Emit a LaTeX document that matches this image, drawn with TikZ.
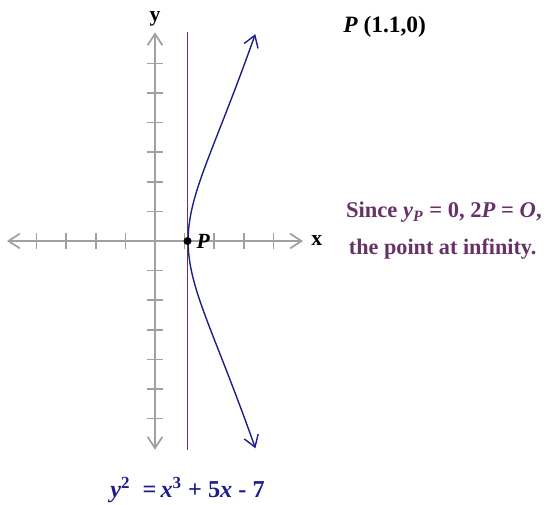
\documentclass[tikz,border=0pt]{standalone}
\usepackage{fontspec}
\setmainfont{Liberation Serif}
\usepackage{tikz}
\usetikzlibrary{arrows.meta,calc,positioning}
\definecolor{axisgray}{HTML}{A0A0A0}
\definecolor{curveblue}{HTML}{1C1C8C}
\definecolor{linepurple}{HTML}{663366}
\definecolor{textpurple}{HTML}{663366}

\begin{document}
\begin{tikzpicture}[x=0.6cm,y=0.6cm,
  >={Straight Barb[length=6.5pt,width=8.5pt]},
  axis/.style={draw=axisgray,line width=1pt},
  lbl/.style={font=\fontsize{12.5}{15}\selectfont\bfseries,inner sep=0pt}]
\useasboundingbox (-5.236,-8.885) rectangle (13.345,8.142);
\coordinate (O) at (0,0);
\coordinate (XL) at (-5,0);
\coordinate (XR) at (5,0);
\coordinate (YB) at (0,-7.05);
\coordinate (YT) at (0,7.05);
\coordinate (P) at (1.1,0);
\coordinate (LT) at (1.1,7.05);
\coordinate (LB) at (1.1,-7.05);
% axes
\draw[axis,<->] (XL)--(XR);
\draw[axis,<->] (YB)--(YT);
\foreach \i in {-4,...,-1,1,2,3,4}
  \draw[axis] (\i,-0.27)--(\i,0.27);
\foreach \i in {-6,...,-1,1,2,...,6}
  \draw[axis] (-0.27,\i)--(0.27,\i);
\node[lbl,anchor=base] (ylab) at (0,7.4) {y};
\node[lbl,anchor=base] (xlab) at (5.47,-0.14) {x};
% curve and line
\draw[curveblue,line width=0.8pt,<->]
  plot[domain=-1.508:1.508,samples=120,smooth]
  ({1.1194+\x*\x},{\x*sqrt(8.759+3.358*\x*\x+\x*\x*\x*\x)});
\draw[linepurple,line width=1.1pt] (LB)--(LT);
\fill (P) circle (2.3pt) node[lbl,right=5pt] (plab) {\textit{P}};
% texts
\node[lbl,font=\fontsize{13.5}{16}\selectfont\bfseries,anchor=base west] (pt) at (6.35,7.03) {\textit{P} (1.1,0)};
\node[lbl,textpurple,font=\fontsize{13}{15}\selectfont\bfseries,anchor=base] (since) at (9.76,0.78)
  {Since \textit{y}\textsubscript{\textit{P}} = 0, 2\textit{P} = \textit{O},};
\node[lbl,textpurple,font=\fontsize{12.8}{15}\selectfont\bfseries,anchor=base] (inf) at (9.72,-0.47) {the point at infinity.};
\node[lbl,curveblue,font=\fontsize{14}{17}\selectfont\bfseries,anchor=base west] (eq) at (-1.52,-8.68)
  {\textit{y}\textsuperscript{2}\ \ =\,\textit{x}\textsuperscript{3} + 5\textit{x} - 7};
\end{tikzpicture}
\end{document}
